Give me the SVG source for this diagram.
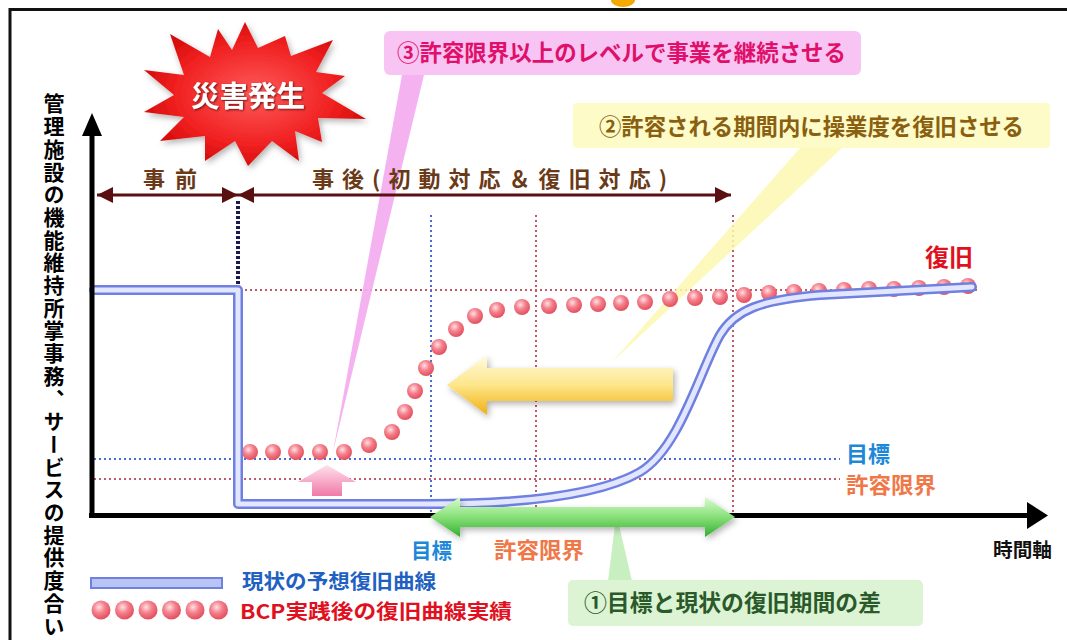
<svg xmlns="http://www.w3.org/2000/svg" width="1067" height="640" viewBox="0 0 1067 640">
<defs>
<style>
.jp{font-family:"Noto Sans CJK JP","Noto Sans",sans-serif;font-weight:bold}
.gb{stroke:#4a6ad8;stroke-width:2;stroke-dasharray:2 3;fill:none}
.gr{stroke:#c05a6a;stroke-width:2;stroke-dasharray:2 3;fill:none}
.dot{fill:url(#dotg)}
</style>
<radialGradient id="dotg" cx="0.4" cy="0.35" r="0.7">
<stop offset="0" stop-color="#ffe0e4"/>
<stop offset="0.45" stop-color="#f4808c"/>
<stop offset="1" stop-color="#e04858"/>
</radialGradient>
<radialGradient id="burst" cx="0.5" cy="0.5" r="0.6">
<stop offset="0" stop-color="#ff5a5a"/>
<stop offset="0.6" stop-color="#f02020"/>
<stop offset="1" stop-color="#c80000"/>
</radialGradient>
<linearGradient id="yarrow" x1="0" y1="0" x2="0" y2="1">
<stop offset="0" stop-color="#fffbe0"/>
<stop offset="0.5" stop-color="#fde68a"/>
<stop offset="1" stop-color="#f0b010"/>
</linearGradient>
<linearGradient id="garrow" x1="0" y1="0" x2="0" y2="1">
<stop offset="0" stop-color="#d8fcd0"/>
<stop offset="0.5" stop-color="#88e078"/>
<stop offset="1" stop-color="#30b030"/>
</linearGradient>
<linearGradient id="parrow" x1="0" y1="0" x2="0" y2="1">
<stop offset="0" stop-color="#ffe0ec"/>
<stop offset="1" stop-color="#f07aa8"/>
</linearGradient>
<filter id="shadow" x="-20%" y="-20%" width="140%" height="140%">
<feDropShadow dx="2" dy="3" stdDeviation="3" flood-color="#000" flood-opacity="0.3"/>
</filter>
<filter id="tshadow" x="-10%" y="-20%" width="120%" height="140%">
<feDropShadow dx="1" dy="1" stdDeviation="1.2" flood-color="#400" flood-opacity="0.8"/>
</filter>
<marker id="ahR" viewBox="0 0 16 16" refX="16" refY="8" markerWidth="16" markerHeight="16" markerUnits="userSpaceOnUse" orient="auto">
<path d="M0,0 L16,8 L0,16 z" fill="#5a1010"/>
</marker>
<marker id="ahL" viewBox="0 0 16 16" refX="0" refY="8" markerWidth="16" markerHeight="16" markerUnits="userSpaceOnUse" orient="auto">
<path d="M16,0 L0,8 L16,16 z" fill="#5a1010"/>
</marker>
</defs>

<rect width="1067" height="640" fill="#fff"/>

<!-- frame -->
<g id="frame">
<path d="M1067,9.5 H10 V640" fill="none" stroke="#111" stroke-width="3"/>
<ellipse cx="623" cy="0" rx="12" ry="7" fill="#f5a800"/>
</g>

<!-- guides -->
<g id="guides">
<line class="gr" x1="240" y1="290" x2="980" y2="290"/>
<line class="gb" x1="94" y1="459" x2="840" y2="459"/>
<line class="gr" x1="94" y1="479" x2="840" y2="479"/>
<line class="gb" x1="431" y1="215" x2="431" y2="515"/>
<line class="gr" x1="536" y1="215" x2="536" y2="515"/>
<line class="gr" x1="733" y1="215" x2="733" y2="515"/>
<line x1="238" y1="201" x2="238" y2="287" stroke="#1a1a50" stroke-width="4" stroke-dasharray="3 2"/>
</g>

<!-- callout pointers -->
<g id="pointers">
<polygon points="402,75 424,75 333,452" fill="#f4aaee" opacity="0.9"/>
<polygon points="800,148 842,148 612,362" fill="#fdf8b0" opacity="0.85"/>
<polygon points="615,525 619,525 632,581 608,581" fill="#c8efc0"/>
</g>

<!-- yellow arrow -->
<g id="yellow-arrow" filter="url(#shadow)">
<polygon points="447,385 487,355 487,368 673,368 673,401 487,401 487,415" fill="url(#yarrow)"/>
</g>

<!-- BCP dots -->
<g id="bcp-curve">
<circle class="dot" cx="250" cy="452" r="8"/>
<circle class="dot" cx="273" cy="452" r="8"/>
<circle class="dot" cx="296" cy="452" r="8"/>
<circle class="dot" cx="320" cy="452" r="8"/>
<circle class="dot" cx="344" cy="452" r="8"/>
<circle class="dot" cx="369" cy="445" r="8"/>
<circle class="dot" cx="392" cy="432" r="8"/>
<circle class="dot" cx="405" cy="412" r="8"/>
<circle class="dot" cx="415" cy="391" r="8"/>
<circle class="dot" cx="426" cy="368" r="8"/>
<circle class="dot" cx="439" cy="347" r="8"/>
<circle class="dot" cx="456" cy="329" r="8"/>
<circle class="dot" cx="475" cy="316" r="8"/>
<circle class="dot" cx="497" cy="310" r="8"/>
<circle class="dot" cx="522" cy="307" r="8"/>
<circle class="dot" cx="549" cy="306" r="8"/>
<circle class="dot" cx="574" cy="305" r="8"/>
<circle class="dot" cx="598" cy="304" r="8"/>
<circle class="dot" cx="621" cy="303" r="8"/>
<circle class="dot" cx="645" cy="302" r="8"/>
<circle class="dot" cx="670" cy="299" r="8"/>
<circle class="dot" cx="695" cy="298" r="8"/>
<circle class="dot" cx="720" cy="297" r="8"/>
<circle class="dot" cx="744" cy="295" r="8"/>
<circle class="dot" cx="769" cy="293" r="8"/>
<circle class="dot" cx="794" cy="292" r="8"/>
<circle class="dot" cx="819" cy="291" r="8"/>
<circle class="dot" cx="844" cy="290" r="8"/>
<circle class="dot" cx="869" cy="289" r="8"/>
<circle class="dot" cx="894" cy="289" r="8"/>
<circle class="dot" cx="919" cy="288" r="8"/>
<circle class="dot" cx="944" cy="287" r="8"/>
<circle class="dot" cx="968" cy="286" r="8"/>
</g>

<!-- current expected recovery curve -->
<g id="current-curve">
<path d="M94,290 H238 V504 H430 C520,504 600,495 640,472 C680,448 700,370 720,335 C735,310 760,300 820,295 L972,287" fill="none" stroke="#6f80e0" stroke-width="10" stroke-linejoin="round" stroke-linecap="round"/>
<path d="M94,290 H238 V504 H430 C520,504 600,495 640,472 C680,448 700,370 720,335 C735,310 760,300 820,295 L972,287" fill="none" stroke="#e2e6ff" stroke-width="5" stroke-linejoin="round" stroke-linecap="round"/>
</g>

<!-- axes -->
<g id="axes">
<line x1="92" y1="518" x2="92" y2="130" stroke="#000" stroke-width="5"/>
<polygon points="92,113 102,136 82,136" fill="#000"/>
<line x1="89" y1="515.5" x2="1030" y2="515.5" stroke="#000" stroke-width="5"/>
<polygon points="1048,515.5 1027,502 1027,529" fill="#000"/>
</g>

<!-- period arrows -->
<g id="period-arrows">
<line x1="97" y1="195" x2="238" y2="195" stroke="#5a1010" stroke-width="3" marker-start="url(#ahL)" marker-end="url(#ahR)"/>
<line x1="238" y1="195" x2="731" y2="195" stroke="#5a1010" stroke-width="3" marker-start="url(#ahL)" marker-end="url(#ahR)"/>
<text class="jp" x="143" y="187" font-size="22" fill="#6a3a18" textLength="54" lengthAdjust="spacing">事前</text>
<text class="jp" x="312" y="187" font-size="22" fill="#6a3a18" textLength="355" lengthAdjust="spacing">事後(初動対応＆復旧対応)</text>
</g>

<!-- green gap arrow -->
<g id="gap-arrow" filter="url(#shadow)">
<polygon points="430,517 460,497 460,507 705,507 705,497 735,517 705,537 705,527 460,527 460,537" fill="url(#garrow)"/>
</g>

<!-- pink up arrow -->
<g id="up-arrow">
<polygon points="327,465 356,482 342,482 342,496 312,496 312,482 298,482" fill="url(#parrow)"/>
</g>

<!-- starburst -->
<g id="disaster">
<polygon filter="url(#shadow)" fill="url(#burst)" points="245,22 258,48 285,36 291,56 333,40 316,72 345,76 322,93 366,119 318,118 322,142 295,131 299,161 272,141 248,166 235,141 205,161 205,136 160,141 184,117 144,112 174,95 144,70 184,75 170,34 210,57 218,29 232,50"/>
<text class="jp" x="248" y="107" font-size="29" fill="#fff" text-anchor="middle" filter="url(#tshadow)" textLength="114" lengthAdjust="spacingAndGlyphs">災害発生</text>
</g>

<!-- callout 3 -->
<g id="callout3">
<rect x="384" y="31" width="477" height="44" rx="6" fill="#f8c4f4"/>
<text class="jp" x="397" y="61" font-size="22.5" fill="#e0106a" textLength="449" lengthAdjust="spacingAndGlyphs">③許容限界以上のレベルで事業を継続させる</text>
</g>

<!-- callout 2 -->
<g id="callout2">
<rect x="573" y="103" width="477" height="45" rx="4" fill="#fdfbc8"/>
<text class="jp" x="599" y="135" font-size="22.5" fill="#8a6010" textLength="425" lengthAdjust="spacingAndGlyphs">②許容される期間内に操業度を復旧させる</text>
</g>

<!-- callout 1 -->
<g id="callout1">
<rect x="568" y="580" width="355" height="46" rx="5" fill="#dcf4d4"/>
<text class="jp" x="584" y="611" font-size="22.5" fill="#2a5a2a" textLength="297" lengthAdjust="spacingAndGlyphs">①目標と現状の復旧期間の差</text>
</g>

<!-- labels -->
<g id="labels">
<text class="jp" x="54" y="93" font-size="21" fill="#000" writing-mode="vertical-rl" letter-spacing="1.7">管理施設の機能維持所掌事務、サービスの提供度合い</text>
<text class="jp" x="925" y="266" font-size="24" fill="#e01020" textLength="48" lengthAdjust="spacingAndGlyphs">復旧</text>
<text class="jp" x="846" y="462" font-size="22" fill="#1e88d8" textLength="44" lengthAdjust="spacingAndGlyphs">目標</text>
<text class="jp" x="846" y="493" font-size="22" fill="#f07848" textLength="90" lengthAdjust="spacingAndGlyphs">許容限界</text>
<text class="jp" x="411" y="558" font-size="21" fill="#1e88d8" textLength="41" lengthAdjust="spacingAndGlyphs">目標</text>
<text class="jp" x="494" y="558" font-size="22" fill="#f07848" textLength="90" lengthAdjust="spacingAndGlyphs">許容限界</text>
<text class="jp" x="993" y="557" font-size="19" fill="#111" textLength="59" lengthAdjust="spacingAndGlyphs">時間軸</text>
</g>

<!-- legend -->
<g id="legend">
<rect x="91" y="578" width="131" height="10" fill="#b8c4f4" stroke="#6f80e0" stroke-width="2"/>
<circle class="dot" cx="101" cy="610" r="9.5"/>
<circle class="dot" cx="124.5" cy="610" r="9.5"/>
<circle class="dot" cx="148" cy="610" r="9.5"/>
<circle class="dot" cx="171.5" cy="610" r="9.5"/>
<circle class="dot" cx="195" cy="610" r="9.5"/>
<circle class="dot" cx="218.5" cy="610" r="9.5"/>
<text class="jp" x="242" y="589" font-size="20" fill="#2060c0" textLength="194" lengthAdjust="spacingAndGlyphs">現状の予想復旧曲線</text>
<text class="jp" x="240" y="619" font-size="20" fill="#e01020" textLength="272" lengthAdjust="spacingAndGlyphs">BCP実践後の復旧曲線実績</text>
</g>
</svg>
